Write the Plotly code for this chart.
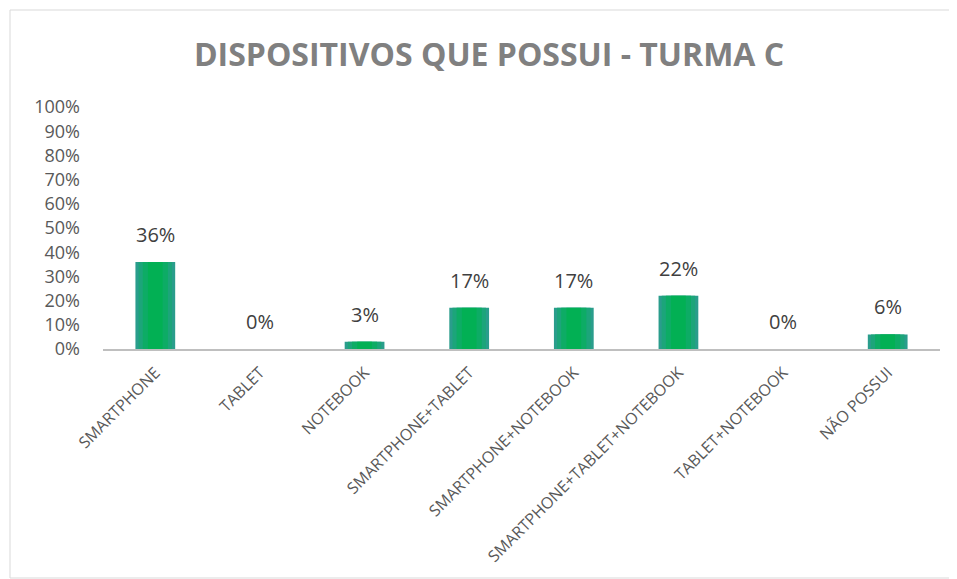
import plotly.graph_objects as go

categories = ["SMARTPHONE", "TABLET", "NOTEBOOK", "SMARTPHONE+TABLET",
              "SMARTPHONE+NOTEBOOK", "SMARTPHONE+TABLET+NOTEBOOK",
              "TABLET+NOTEBOOK", "NÃO POSSUI"]
values = [0.36, 0.0, 0.03, 0.17, 0.17, 0.22, 0.0, 0.06]
value_labels = ["36%", "0%", "3%", "17%", "17%", "22%", "0%", "6%"]
y_ticks = [i / 10 for i in range(11)]
y_tick_labels = [f"{i*10}%" for i in range(11)]

# page body has an 8px offset; work in figure coordinates
OFF = 8
W, H = 957 - OFF, 579 - OFF
L, R, T, B = 103 - OFF, 957 - 940, 107 - OFF, 579 - 349
PW, PH = W - L - R, H - T - B

fig = go.Figure()
# layered bars to approximate the teal-edge / green-centre gradient
layers = [(0.38, "#2A9D8C"), (0.32, "#1CA57A"), (0.24, "#0DAC65"), (0.14, "#02B054")]
for w, c in layers:
    fig.add_trace(go.Bar(x=categories, y=values, width=w,
                         marker=dict(color=c, line=dict(width=0)),
                         hoverinfo="skip", showlegend=False))

for c, v, t in zip(categories, values, value_labels):
    fig.add_annotation(x=c, y=v, text=t, showarrow=False, yanchor="bottom",
                       yshift=12, font=dict(family="Open Sans", size=20, color="#404040"))

# outer chart border
bx0, bx1, by0, by1 = 10 - OFF, 955 - OFF, 10 - OFF, 578 - OFF
fig.add_shape(type="rect", xref="paper", yref="paper",
              x0=(bx0 - L) / PW, x1=(bx1 - L) / PW,
              y0=(H - B - by1) / PH, y1=(H - B - by0) / PH,
              line=dict(color="#D9D9D9", width=1), fillcolor="rgba(0,0,0,0)", layer="below")

fig.update_layout(
    width=W, height=H,
    margin=dict(l=L, r=R, t=T, b=B),
    barmode="overlay",
    paper_bgcolor="white", plot_bgcolor="white",
    title=dict(text="<b>DISPOSITIVOS QUE POSSUI - TURMA C</b>",
               x=(489 - OFF) / W, xanchor="center", y=1 - (55 - OFF) / H, yanchor="middle",
               yref="container",
               font=dict(family="Open Sans", size=32, color="#808080")),
    xaxis=dict(showline=True, linecolor="#BFBFBF", linewidth=2,
               tickangle=-45, ticks="", showgrid=False, zeroline=False,
               tickfont=dict(family="Open Sans", size=16, color="#595959"),
               ticklabelstandoff=6),
    yaxis=dict(range=[0, 1], tickvals=y_ticks, ticktext=y_tick_labels,
               showgrid=False, zeroline=False, showline=False, ticks="",
               ticklabelstandoff=22,
               tickfont=dict(family="Open Sans", size=18, color="#595959")),
)

fig.write_html("out.html")
